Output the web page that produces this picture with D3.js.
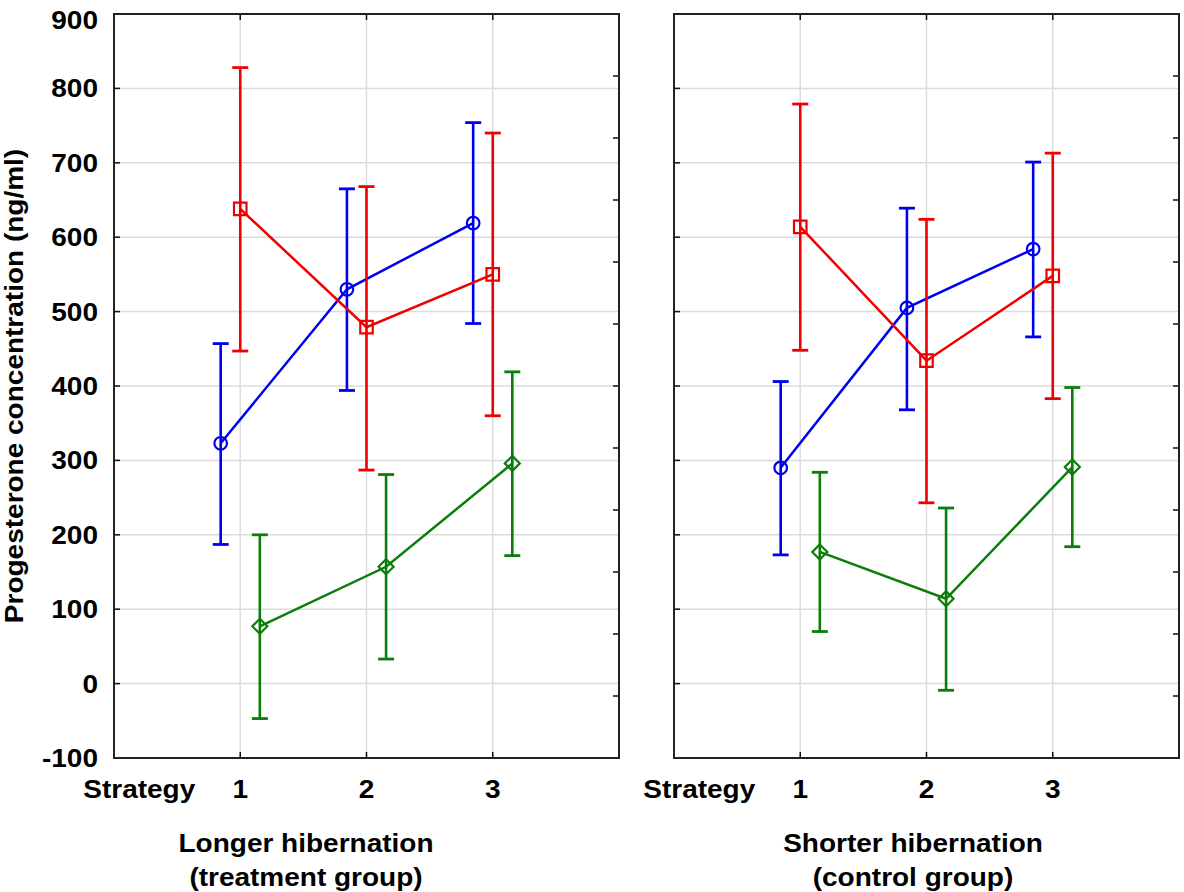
<!DOCTYPE html>
<html><head><meta charset="utf-8">
<script src="https://cdn.jsdelivr.net/npm/d3@7/dist/d3.min.js"></script>
<style>
body{margin:0;background:#fff}
text{font-family:"Liberation Sans",Arial,sans-serif;font-weight:bold;fill:#000;font-size:25px}
</style></head>
<body><svg id="chart" width="1184" height="892"></svg>
<script>
// ---------- data ----------
const strategies = [1, 2, 3];
const strategyLabels = ["1", "2", "3"];
const yTickValues = [-100, 0, 100, 200, 300, 400, 500, 600, 700, 800, 900];
const yAxisTitle = "Progesterone concentration (ng/ml)";
const xAxisTitle = "Strategy";
const panelTitlesLonger = ["Longer hibernation", "(treatment group)"];
const panelTitlesShorter = ["Shorter hibernation", "(control group)"];

// Longer hibernation (treatment group)
const longerBlueMean  = [323, 530, 619];
const longerBlueLow   = [187, 394, 484];
const longerBlueHigh  = [457, 665, 754];
const longerRedMean   = [638, 479, 550];
const longerRedLow    = [447, 287, 360];
const longerRedHigh   = [828, 668, 740];
const longerGreenMean = [77, 157, 296];
const longerGreenLow  = [-47, 33, 172];
const longerGreenHigh = [200, 281, 419];

// Shorter hibernation (control group)
const shorterBlueMean  = [290, 505, 584];
const shorterBlueLow   = [173, 368, 466];
const shorterBlueHigh  = [406, 639, 701];
const shorterRedMean   = [614, 434, 548];
const shorterRedLow    = [448, 243, 383];
const shorterRedHigh   = [779, 624, 713];
const shorterGreenMean = [177, 114, 291];
const shorterGreenLow  = [70, -9, 184];
const shorterGreenHigh = [284, 236, 398];

// ---------- layout / style ----------
const seriesStyle = [
  {color: "#0000f0", shape: "circle",  offset: -0.155},
  {color: "#f00000", shape: "square",  offset: 0},
  {color: "#0a7d0a", shape: "diamond", offset: 0.155}
];
const panels = [
  {x0: 114, x1: 619, titles: panelTitlesLonger, titleX: 306,
   series: [[longerBlueMean, longerBlueLow, longerBlueHigh],
            [longerRedMean, longerRedLow, longerRedHigh],
            [longerGreenMean, longerGreenLow, longerGreenHigh]], yLabels: true},
  {x0: 674, x1: 1179, titles: panelTitlesShorter, titleX: 913,
   series: [[shorterBlueMean, shorterBlueLow, shorterBlueHigh],
            [shorterRedMean, shorterRedLow, shorterRedHigh],
            [shorterGreenMean, shorterGreenLow, shorterGreenHigh]], yLabels: false}
];
const plotTop = 14, plotBottom = 758;
const SX = 1.12; // horizontal text stretch

const svg = d3.select("#chart");
const y = d3.scaleLinear().domain([-100, 900]).range([plotBottom, plotTop]);
const yRight = d3.scaleLinear().domain([0, 12]).range([plotBottom, plotTop]);

function txt(g, x, yy, s, anchor, rot) {
  return g.append("text")
    .attr("transform", `translate(${x},${yy})` + (rot ? ` rotate(${rot})` : "") + ` scale(${SX},1)`)
    .attr("text-anchor", anchor || "middle")
    .text(s);
}

const symbolFor = {
  circle: d3.symbol().type(d3.symbolCircle).size(Math.PI * 6.3 * 6.3),
  square: d3.symbol().type(d3.symbolSquare).size(12.5 * 12.5)
};

panels.forEach(p => {
  const g = svg.append("g");
  const x = d3.scaleLinear().domain([0, 4]).range([p.x0, p.x1]);

  // grid
  g.append("g").selectAll("line").data(yTickValues.filter(v => v > -100 && v < 900)).join("line")
    .attr("x1", p.x0).attr("x2", p.x1).attr("y1", d => y(d)).attr("y2", d => y(d))
    .attr("stroke", "#dcdcdc").attr("stroke-width", 1.5);
  g.append("g").selectAll("line").data(strategies).join("line")
    .attr("x1", d => x(d)).attr("x2", d => x(d)).attr("y1", plotTop).attr("y2", plotBottom)
    .attr("stroke", "#dcdcdc").attr("stroke-width", 1.5);

  // ticks left (inward)
  g.append("g").selectAll("line").data(yTickValues).join("line")
    .attr("x1", p.x0).attr("x2", p.x0 + 6).attr("y1", d => y(d)).attr("y2", d => y(d))
    .attr("stroke", "#111").attr("stroke-width", 1.5);
  // ticks right (inward, secondary scale)
  g.append("g").selectAll("line").data(d3.range(1, 12)).join("line")
    .attr("x1", p.x1 - 6).attr("x2", p.x1).attr("y1", d => yRight(d)).attr("y2", d => yRight(d))
    .attr("stroke", "#111").attr("stroke-width", 1.5);
  // ticks top/bottom
  g.append("g").selectAll("line").data(strategies).join("line")
    .attr("x1", d => x(d)).attr("x2", d => x(d)).attr("y1", plotTop).attr("y2", plotTop + 6)
    .attr("stroke", "#111").attr("stroke-width", 1.5);
  g.append("g").selectAll("line").data(strategies).join("line")
    .attr("x1", d => x(d)).attr("x2", d => x(d)).attr("y1", plotBottom - 6).attr("y2", plotBottom)
    .attr("stroke", "#111").attr("stroke-width", 1.5);

  // frame
  g.append("rect").attr("x", p.x0).attr("y", plotTop).attr("width", p.x1 - p.x0).attr("height", plotBottom - plotTop)
    .attr("fill", "none").attr("stroke", "#222").attr("stroke-width", 2);

  // series
  p.series.forEach((s, si) => {
    const st = seriesStyle[si];
    const [mean, low, high] = s;
    const pts = strategies.map((c, i) => ({x: x(c + st.offset), m: mean[i], lo: low[i], hi: high[i]}));
    const sg = g.append("g");
    sg.append("g").selectAll("line").data(pts).join("line")
      .attr("x1", d => d.x).attr("x2", d => d.x).attr("y1", d => y(d.lo)).attr("y2", d => y(d.hi))
      .attr("stroke", st.color).attr("stroke-width", 2.6);
    sg.append("g").selectAll("line").data(pts).join("line")
      .attr("x1", d => d.x - 8).attr("x2", d => d.x + 8).attr("y1", d => y(d.hi)).attr("y2", d => y(d.hi))
      .attr("stroke", st.color).attr("stroke-width", 2.8);
    sg.append("g").selectAll("line").data(pts).join("line")
      .attr("x1", d => d.x - 8).attr("x2", d => d.x + 8).attr("y1", d => y(d.lo)).attr("y2", d => y(d.lo))
      .attr("stroke", st.color).attr("stroke-width", 2.8);
    sg.append("path").datum(pts)
      .attr("d", d3.line().x(d => d.x).y(d => y(d.m)))
      .attr("fill", "none").attr("stroke", st.color).attr("stroke-width", 2.5);
    if (st.shape === "diamond") {
      sg.append("g").selectAll("path").data(pts).join("path")
        .attr("d", d => `M${d.x},${y(d.m) - 7.5}L${d.x + 7.5},${y(d.m)}L${d.x},${y(d.m) + 7.5}L${d.x - 7.5},${y(d.m)}Z`)
        .attr("fill", "none").attr("stroke", st.color).attr("stroke-width", 2.2);
    } else {
      sg.append("g").selectAll("path").data(pts).join("path")
        .attr("transform", d => `translate(${d.x},${y(d.m)})`)
        .attr("d", symbolFor[st.shape])
        .attr("fill", "none").attr("stroke", st.color).attr("stroke-width", 2.2);
    }
  });

  if (p.yLabels) {
    yTickValues.forEach(v => {
      const yy = Math.max(y(v) + 9, plotTop + 15);
      txt(svg, p.x0 - 16, yy, String(v), "end");
    });
  }
  strategies.forEach((c, i) => txt(svg, x(c), 798, strategyLabels[i], "middle"));
  txt(svg, x(1) - 45, 798, xAxisTitle, "end");
  txt(svg, p.titleX, 852, p.titles[0], "middle");
  txt(svg, p.titleX, 886, p.titles[1], "middle");
});

txt(svg, 23, 386, yAxisTitle, "middle", -90);
</script></body></html>
